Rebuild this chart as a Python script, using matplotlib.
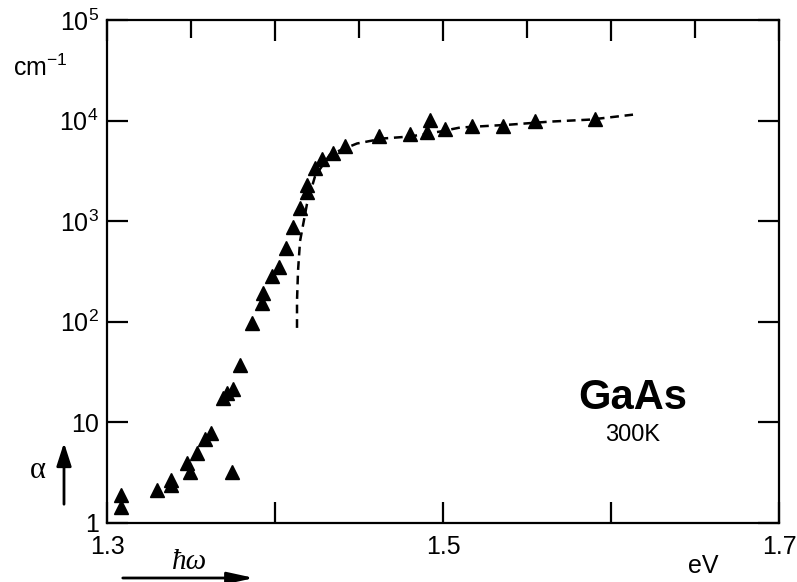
import numpy as np
import matplotlib
matplotlib.use("Agg")
import matplotlib.pyplot as plt

plt.rcParams['font.family'] = ['Liberation Sans', 'DejaVu Sans']
plt.rcParams['mathtext.fontset'] = 'custom'
plt.rcParams['mathtext.rm'] = 'Liberation Sans'
plt.rcParams['mathtext.default'] = 'regular'

# measured points (photon energy eV, absorption cm^-1)
pts_x = [1.3083, 1.3083, 1.3298, 1.3381, 1.3381, 1.3476, 1.3494, 1.3536, 1.3583, 1.3619,
         1.3690, 1.3715, 1.3750, 1.3744, 1.3792, 1.3863, 1.3923, 1.3929, 1.3982, 1.4024,
         1.4065, 1.4107, 1.4149, 1.4190, 1.4190, 1.4238, 1.4280, 1.4345, 1.4417, 1.4619,
         1.4804, 1.4905, 1.4923, 1.5012, 1.5173, 1.5357, 1.5548, 1.5905]
pts_a = [1.89, 1.44, 2.12, 2.67, 2.38, 3.93, 3.2, 4.93, 6.79, 7.78,
         17.5, 19.5, 21.7, 3.2, 37.5, 98, 154, 194, 285, 351,
         541, 873, 1345, 2300, 1950, 3350, 4110, 4710, 5650, 6950,
         7430, 7780, 10230, 8330, 8920, 8920, 10000, 10480]

# dashed theory curve
fit_x = [1.4131, 1.4131, 1.4137, 1.4149, 1.4190, 1.4238, 1.4327, 1.4488, 1.4643, 1.4804,
         1.4982, 1.5101, 1.5399, 1.5637, 1.5875, 1.5982, 1.6131]
fit_a = [87, 162, 320, 633, 1473, 2790, 4600, 5920, 6640, 6950,
         7780, 8530, 9120, 9770, 10230, 10720, 11460]

W, H = 797, 582
fig = plt.figure(figsize=(W/100, H/100), dpi=100)
ax = fig.add_axes([107/W, 1-523/H, (779-107)/W, (523-20)/H])

def fp(x, y):
    return (x/W, 1-y/H)

ax.plot(fit_x, fit_a, color='black', lw=1.8, ls=(0, (3.5, 2.3)))
ax.plot(pts_x, pts_a, '^', color='black', ms=10, mec='black')

ax.set_yscale('log')
ax.set_xlim(1.3, 1.7)
ax.set_ylim(1, 1e5)

for s in ax.spines.values():
    s.set_linewidth(1.6)

ax.set_xticks([1.3, 1.4, 1.5, 1.6, 1.7])
ax.set_xticklabels(['1.3', '', '1.5', '', '1.7'])
ax.set_xticks([1.35, 1.45, 1.55, 1.65], minor=True)
ax.set_yticks([1, 10, 100, 1e3, 1e4, 1e5])
ax.set_yticklabels(['1', '10', '10$^2$', '10$^3$', '10$^4$', '10$^5$'])
ax.yaxis.set_minor_locator(matplotlib.ticker.NullLocator())

ax.tick_params(which='major', direction='in', length=15, width=1.6,
               top=True, right=True, labelsize=18, pad=9)
ax.tick_params(axis='x', which='minor', direction='in', length=13, width=1.6,
               top=True, bottom=False)
ax.tick_params(axis='y', pad=6)

fig.text(*fp(40, 68), 'cm$^{-1}$', fontsize=18, ha='center', va='center')
fig.text(*fp(703, 566), 'eV', fontsize=18, ha='center', va='center')
fig.text(*fp(633, 398), 'GaAs', fontsize=30, fontweight='bold', ha='center', va='center')
fig.text(*fp(633, 435), '300K', fontsize=17, ha='center', va='center')

fig.text(*fp(38, 470), 'α', fontsize=22, family='Liberation Serif',
         ha='center', va='center')
fig.text(*fp(190, 562), 'ħω', fontsize=21, family='Liberation Serif', style='italic',
         ha='center', va='center')

ax.annotate('', xy=fp(64, 440), xycoords='figure fraction',
            xytext=fp(64, 507), textcoords='figure fraction',
            arrowprops=dict(arrowstyle='-|>,head_length=1.4,head_width=0.45',
                            color='black', lw=2))
ax.annotate('', xy=fp(257, 578), xycoords='figure fraction',
            xytext=fp(120, 578), textcoords='figure fraction',
            arrowprops=dict(arrowstyle='-|>,head_length=1.6,head_width=0.35',
                            color='black', lw=2))

fig.savefig('out.png', dpi=100)
